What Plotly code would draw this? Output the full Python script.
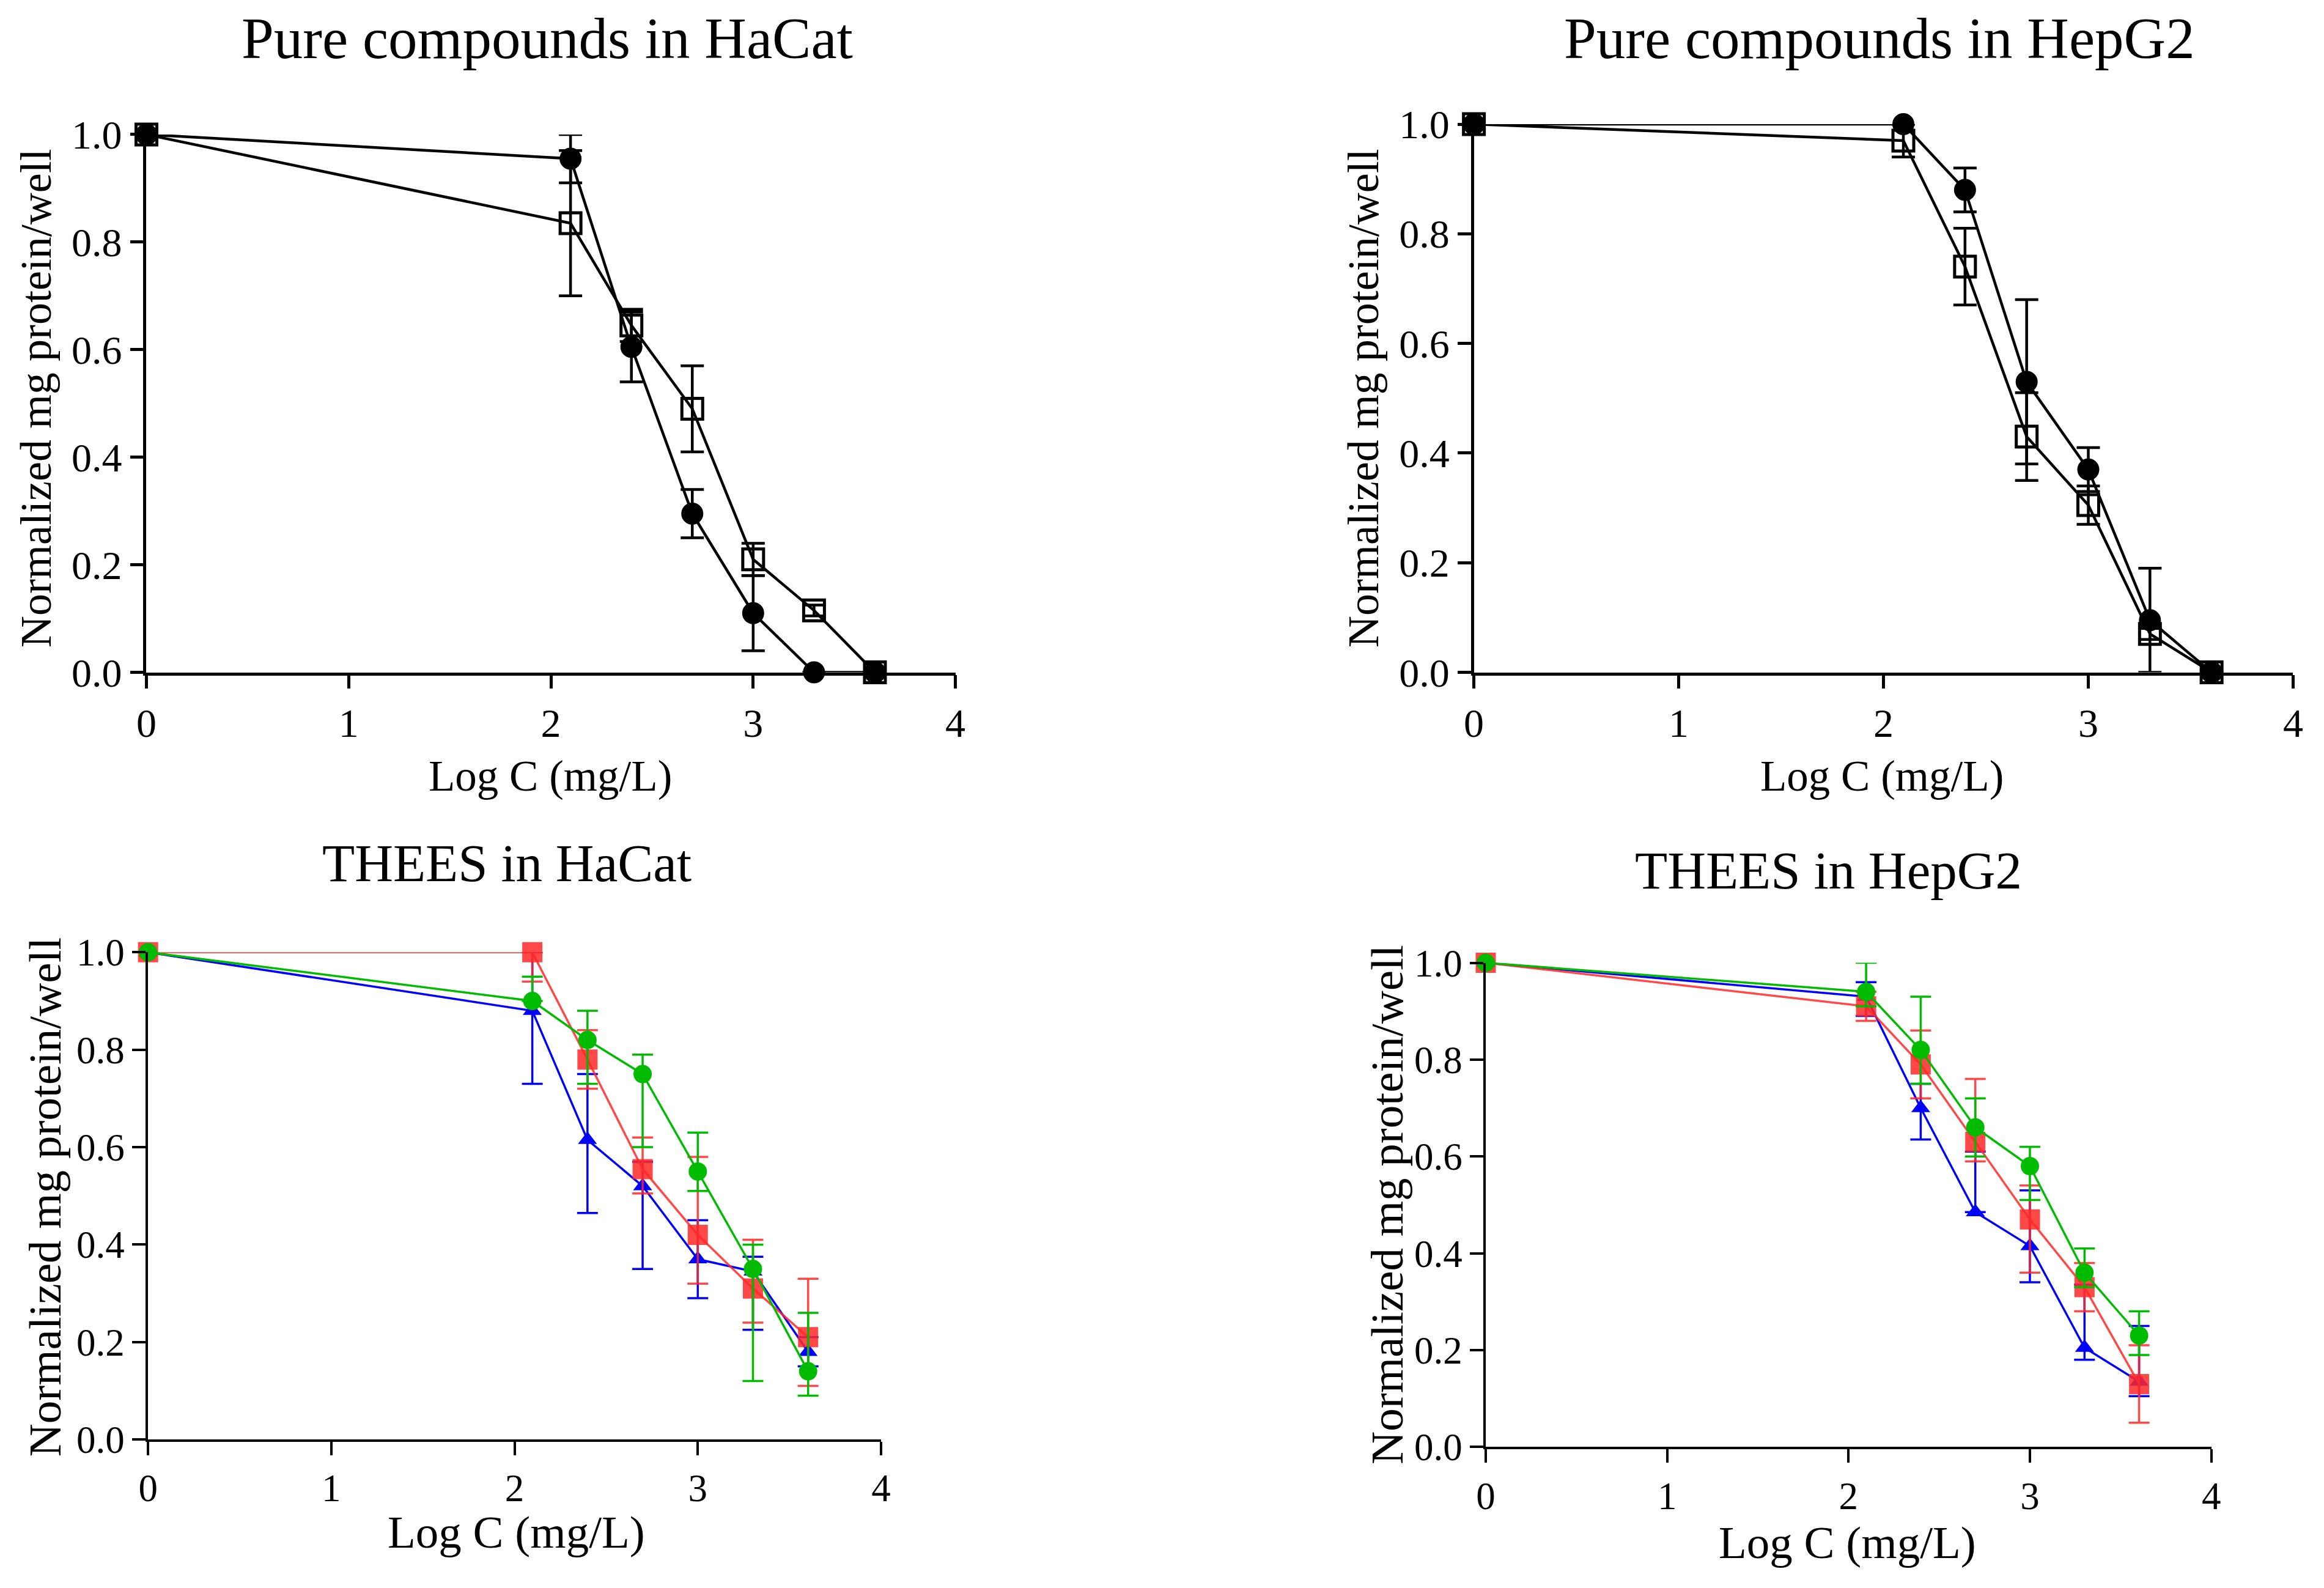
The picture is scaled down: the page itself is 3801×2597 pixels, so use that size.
import plotly.graph_objects as go
from plotly.subplots import make_subplots

# ── data ─────────────────────────────────────────────
log_c = [0, 2.097, 2.398, 2.699, 3.0, 3.301, 3.602]

# Pure compounds in HaCat
hacat_circ = [1.0, 0.955, 0.605, 0.295, 0.11, 0.0, 0.0]
hacat_circ_err = [0, 0.045, 0.065, 0.045, 0.07, 0, 0]
hacat_sq = [1.0, 0.835, 0.645, 0.49, 0.21, 0.115, 0.0]
hacat_sq_err = [0, 0.135, 0.03, 0.08, 0.03, 0.01, 0]

# Pure compounds in HepG2
hepg2_circ = [1.0, 1.0, 0.88, 0.53, 0.37, 0.095, 0.0]
hepg2_circ_err = [0, 0, 0.04, 0.15, 0.04, 0.095, 0]
hepg2_sq = [1.0, 0.97, 0.74, 0.43, 0.305, 0.07, 0.0]
hepg2_sq_err = [0, 0.03, 0.07, 0.08, 0.035, 0.01, 0]

# THEES in HaCat
th_hacat_blue = [1.0, 0.88, 0.615, 0.52, 0.37, 0.345, 0.18]
th_hacat_blue_up = [0, 0.12, 0.135, 0.05, 0.08, 0.03, 0.03]
th_hacat_blue_dn = [0, 0.15, 0.15, 0.17, 0.08, 0.12, 0.03]
th_hacat_red = [1.0, 1.0, 0.78, 0.555, 0.42, 0.31, 0.21]
th_hacat_red_up = [0, 0, 0.06, 0.065, 0.16, 0.10, 0.12]
th_hacat_red_dn = [0, 0.06, 0.06, 0.05, 0.10, 0.07, 0.10]
th_hacat_green = [1.0, 0.90, 0.82, 0.75, 0.55, 0.35, 0.14]
th_hacat_green_up = [0, 0.05, 0.06, 0.04, 0.08, 0.05, 0.12]
th_hacat_green_dn = [0, 0.0, 0.09, 0.15, 0.04, 0.23, 0.05]

# THEES in HepG2
th_hepg2_blue = [1.0, 0.93, 0.70, 0.485, 0.415, 0.205, 0.135]
th_hepg2_blue_up = [0, 0.03, 0.05, 0.125, 0.115, 0.13, 0.115]
th_hepg2_blue_dn = [0, 0.04, 0.065, 0.0, 0.075, 0.025, 0.03]
th_hepg2_red = [1.0, 0.91, 0.79, 0.63, 0.47, 0.33, 0.13]
th_hepg2_red_up = [0, 0.03, 0.07, 0.13, 0.07, 0.05, 0.08]
th_hepg2_red_dn = [0, 0.03, 0.07, 0.04, 0.11, 0.05, 0.08]
th_hepg2_green = [1.0, 0.94, 0.82, 0.66, 0.58, 0.36, 0.23]
th_hepg2_green_up = [0, 0.06, 0.11, 0.06, 0.04, 0.05, 0.05]
th_hepg2_green_dn = [0, 0.03, 0.07, 0.06, 0.07, 0.03, 0.04]

titles = ["Pure compounds in HaCat", "Pure compounds in HepG2",
          "THEES in HaCat", "THEES in HepG2"]
x_title = "Log C (mg/L)"
y_title = "Normalized mg protein/well"

FONT = "Liberation Serif"
BLUE = "#0000FF"
RED = "rgba(255,40,40,0.85)"
GREEN = "#00BB00"

fig = make_subplots(rows=2, cols=2)


def black_trace(y, err, symbol, size, row, col):
    fig.add_trace(go.Scatter(
        x=log_c, y=y, mode="lines+markers",
        line=dict(color="black", width=4.5),
        marker=dict(symbol=symbol, size=size, color="black",
                    line=dict(color="black", width=5)),
        error_y=dict(type="data", array=err, color="black",
                     thickness=4.5, width=19),
        cliponaxis=False, showlegend=False), row=row, col=col)


def color_trace(y, up, dn, symbol, size, color, row, col):
    fig.add_trace(go.Scatter(
        x=log_c, y=y, mode="lines+markers",
        line=dict(color=color, width=3.5),
        marker=dict(symbol=symbol, size=size, color=color, line=dict(width=0)),
        error_y=dict(type="data", symmetric=False, array=up, arrayminus=dn,
                     color=color, thickness=3.5, width=17),
        cliponaxis=False, showlegend=False), row=row, col=col)


# ── top panels ──
black_trace(hacat_sq, hacat_sq_err, "square-open", 34, 1, 1)
black_trace(hacat_circ, hacat_circ_err, "circle", 31, 1, 1)
black_trace(hepg2_sq, hepg2_sq_err, "square-open", 34, 1, 2)
black_trace(hepg2_circ, hepg2_circ_err, "circle", 31, 1, 2)

# ── bottom panels ──
color_trace(th_hacat_blue, th_hacat_blue_up, th_hacat_blue_dn, "triangle-up", 27, BLUE, 2, 1)
color_trace(th_hacat_red, th_hacat_red_up, th_hacat_red_dn, "square", 33, RED, 2, 1)
color_trace(th_hacat_green, th_hacat_green_up, th_hacat_green_dn, "circle", 30, GREEN, 2, 1)
color_trace(th_hepg2_blue, th_hepg2_blue_up, th_hepg2_blue_dn, "triangle-up", 27, BLUE, 2, 2)
color_trace(th_hepg2_red, th_hepg2_red_up, th_hepg2_red_dn, "square", 33, RED, 2, 2)
color_trace(th_hepg2_green, th_hepg2_green_up, th_hepg2_green_dn, "circle", 30, GREEN, 2, 2)

# axis domains (paper fractions)
x_domains = [[0.0609, 0.4090], [0.6321, 0.9846], [0.0616, 0.3770], [0.6372, 0.9494]]
y_domains = [[0.5797, 0.9184], [0.5797, 0.9249], [0.0966, 0.4034], [0.0919, 0.3968]]
tick_sizes = [66, 66, 63, 63]
line_w = [4.5, 4.5, 3.5, 3.5]

for i in range(4):
    sfx = "" if i == 0 else str(i + 1)
    fig.layout["xaxis" + sfx].update(
        domain=x_domains[i], range=[0, 4], tickvals=[0, 1, 2, 3, 4],
        showline=True, linecolor="black", linewidth=line_w[i],
        ticks="outside", ticklen=22, tickwidth=line_w[i], tickcolor="black",
        showgrid=False, zeroline=False, automargin=False,
        tickfont=dict(family=FONT, size=tick_sizes[i], color="black"))
    fig.layout["yaxis" + sfx].update(
        domain=y_domains[i], range=[0, 1.0],
        tickvals=[0, 0.2, 0.4, 0.6, 0.8, 1.0], tickformat=".1f",
        showline=True, linecolor="black", linewidth=line_w[i],
        ticks="outside", ticklen=22, tickwidth=line_w[i], tickcolor="black",
        showgrid=False, zeroline=False, automargin=False,
        tickfont=dict(family=FONT, size=tick_sizes[i], color="black"))

# titles as annotations (top row anchored to the page top so nothing is cut)
title_pos = [(0.2334, 1.0, "top", 95), (0.8067, 1.0, "top", 95),
             (0.2160, 0.4597, "middle", 87), (0.7846, 0.4550, "middle", 87)]
xt_pos = [(0.2346, 0.5141, 71), (0.8077, 0.5141, 71),
          (0.2202, 0.0385, 75), (0.7929, 0.0319, 75)]
yt_pos = [(0.0134, 0.7524, 72), (0.5846, 0.7524, 72),
          (0.0172, 0.2495, 75), (0.5949, 0.2446, 75)]

for (x, y, anc, s), t in zip(title_pos, titles):
    fig.add_annotation(x=x, y=y, xref="paper", yref="paper", text=t,
                       showarrow=False, xanchor="center", yanchor=anc,
                       font=dict(family=FONT, size=s, color="black"))
for x, y, s in xt_pos:
    fig.add_annotation(x=x, y=y, xref="paper", yref="paper", text=x_title,
                       showarrow=False, xanchor="center", yanchor="middle",
                       font=dict(family=FONT, size=s, color="black"))
for x, y, s in yt_pos:
    fig.add_annotation(x=x, y=y, xref="paper", yref="paper", text=y_title,
                       showarrow=False, xanchor="center", yanchor="middle",
                       textangle=-90,
                       font=dict(family=FONT, size=s, color="black"))

fig.update_layout(
    template="none",
    width=3801, height=2597,
    margin=dict(l=0, r=0, t=0, b=0),
    plot_bgcolor="white", paper_bgcolor="white",
    showlegend=False,
)

fig.write_html("out.html")
